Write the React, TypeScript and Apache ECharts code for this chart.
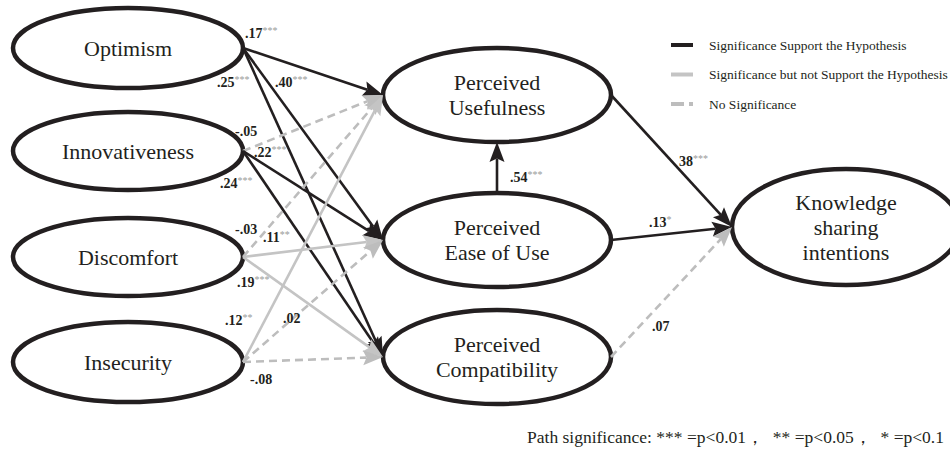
import React, { useEffect, useRef } from 'react';
import * as echarts from 'echarts';

// ---- Data ----
const nodeNames = [
  'Optimism',
  'Innovativeness',
  'Discomfort',
  'Insecurity',
  'Perceived\nUsefulness',
  'Perceived\nEase of Use',
  'Perceived\nCompatibility',
  'Knowledge\nsharing\nintentions',
];

const edgeSources = [0, 0, 0, 1, 1, 1, 2, 2, 2, 3, 3, 3, 5, 4, 5, 6];
const edgeTargets = [4, 5, 6, 4, 5, 6, 4, 5, 6, 4, 5, 6, 4, 7, 7, 7];
const coefficients = ['.17', '.40', '.25', '-.05', '.22', '.24', '-.03', '.11', '.19', '.12', '.02', '-.08', '.54', '38', '.13', '.07'];
const significance = ['***', '***', '***', '', '***', '***', '', '**', '***', '**', '', '', '***', '***', '*', ''];
const pathTypes = [
  'support', 'support', 'support',
  'noSig', 'support', 'support',
  'noSig', 'notSupport', 'notSupport',
  'notSupport', 'noSig', 'noSig',
  'support', 'support', 'support', 'noSig',
];

const legendTypes = ['support', 'notSupport', 'noSig'];
const legendLabels = [
  'Significance Support the Hypothesis',
  'Significance but not Support the Hypothesis',
  'No Significance',
];
const footnote = 'Path significance: *** =p<0.01，  ** =p<0.05，  * =p<0.1';

// ---- Layout (positions & sizes) ----
const nodeLayout = [
  { cx: 128, cy: 48, rx: 115, ry: 40 },
  { cx: 128, cy: 151, rx: 115, ry: 39 },
  { cx: 128, cy: 257, rx: 115, ry: 39 },
  { cx: 128, cy: 362, rx: 115, ry: 40 },
  { cx: 497, cy: 95, rx: 114, ry: 47 },
  { cx: 497, cy: 240, rx: 114, ry: 47 },
  { cx: 497, cy: 357, rx: 114, ry: 47 },
  { cx: 846, cy: 227, rx: 114, ry: 58 },
];

const labelLayout = [
  [245, 33], [275, 82], [217, 82],
  [235, 131], [254, 152], [220, 183],
  [235, 229], [263, 237], [237, 282],
  [225, 320], [283, 318], [250, 379],
  [510, 177], [679, 161], [649, 222], [652, 326],
];

const INK = '#231f20';
const pathStyles: Record<string, { stroke: string; lineDash?: number[]; width: number }> = {
  support: { stroke: INK, width: 2.6 },
  notSupport: { stroke: '#c4c4c4', width: 2.6 },
  noSig: { stroke: '#bdbdbd', width: 2.6, lineDash: [8, 5] },
};

const SERIF = 'Liberation Serif';

function anchors(i: number) {
  const s = nodeLayout[edgeSources[i]];
  const t = nodeLayout[edgeTargets[i]];
  if (Math.abs(s.cx - t.cx) < 1) {
    return [s.cx, s.cy - s.ry, t.cx, t.cy + t.ry];
  }
  return [s.cx + s.rx, s.cy, t.cx - t.rx, t.cy];
}

export default function App() {
  const ref = useRef<HTMLDivElement>(null);

  useEffect(() => {
    if (!ref.current) return;
    const chart = echarts.init(ref.current, null, { renderer: 'svg' });

    const nodeData = nodeLayout.map((n) => [n.cx, n.cy, n.rx, n.ry]);
    const edgeData = edgeSources.map((_, i) => anchors(i));
    const labelData = labelLayout.map((p) => [p[0], p[1]]);

    const legendGraphics: any[] = [];
    legendLabels.forEach((lab, i) => {
      const st = pathStyles[legendTypes[i]];
      const y = 45 + i * 29.5;
      legendGraphics.push({
        type: 'line',
        shape: { x1: 671, y1: y, x2: 693, y2: y },
        style: { stroke: st.stroke, lineWidth: 4, lineDash: st.lineDash ? [13, 5] : null },
      });
      legendGraphics.push({
        type: 'text',
        x: 709,
        y,
        style: {
          text: lab,
          fill: INK,
          fontFamily: SERIF,
          fontSize: 13.5,
          verticalAlign: 'middle',
          align: 'left',
        },
      });
    });
    legendGraphics.push({
      type: 'text',
      x: 944,
      y: 437,
      style: {
        text: footnote,
        fill: INK,
        fontFamily: SERIF,
        fontSize: 17.5,
        align: 'right',
        verticalAlign: 'middle',
      },
    });

    chart.setOption({
      animation: false,
      backgroundColor: '#ffffff',
      grid: { left: 0, right: 0, top: 0, bottom: 0 },
      xAxis: { type: 'value', min: 0, max: 950, show: false },
      yAxis: { type: 'value', min: 0, max: 460, inverse: true, show: false },
      graphic: legendGraphics,
      series: [
        {
          type: 'custom',
          name: 'nodes',
          clip: false,
          z: 2,
          data: nodeData,
          encode: { x: 0, y: 1 },
          renderItem: (params: any, api: any) => {
            const i = params.dataIndex;
            const c = api.coord([api.value(0), api.value(1)]);
            const s = api.size([api.value(2), api.value(3)]);
            return {
              type: 'group',
              children: [
                {
                  type: 'ellipse',
                  shape: { cx: c[0], cy: c[1], rx: s[0], ry: s[1] },
                  style: { fill: '#ffffff', stroke: INK, lineWidth: 4.5 },
                },
                {
                  type: 'text',
                  x: c[0],
                  y: c[1],
                  style: {
                    text: nodeNames[i],
                    fill: INK,
                    fontFamily: SERIF,
                    fontSize: 22,
                    lineHeight: 25,
                    align: 'center',
                    verticalAlign: 'middle',
                  },
                },
              ],
            };
          },
        },
        {
          type: 'custom',
          name: 'paths',
          clip: false,
          z: 3,
          data: edgeData,
          encode: { x: [0, 2], y: [1, 3] },
          renderItem: (params: any, api: any) => {
            const i = params.dataIndex;
            const p1 = api.coord([api.value(0), api.value(1)]);
            const p2 = api.coord([api.value(2), api.value(3)]);
            const st = pathStyles[pathTypes[i]];
            const dx = p2[0] - p1[0];
            const dy = p2[1] - p1[1];
            const len = Math.hypot(dx, dy);
            const ux = dx / len;
            const uy = dy / len;
            const px = -uy;
            const py = ux;
            const L = 20;
            const W = 7.5;
            const notch = 3.5;
            const bx = p2[0] - ux * L;
            const by = p2[1] - uy * L;
            const nx = p2[0] - ux * (L - notch);
            const ny = p2[1] - uy * (L - notch);
            return {
              type: 'group',
              children: [
                {
                  type: 'line',
                  shape: { x1: p1[0], y1: p1[1], x2: nx, y2: ny },
                  style: {
                    stroke: st.stroke,
                    lineWidth: st.width,
                    lineDash: st.lineDash || null,
                  },
                },
                {
                  type: 'polygon',
                  shape: {
                    points: [
                      [p2[0], p2[1]],
                      [bx + px * W, by + py * W],
                      [nx, ny],
                      [bx - px * W, by - py * W],
                    ],
                  },
                  style: { fill: st.stroke },
                },
              ],
            };
          },
        },
        {
          type: 'custom',
          name: 'coefficients',
          clip: false,
          z: 4,
          data: labelData,
          encode: { x: 0, y: 1 },
          renderItem: (params: any, api: any) => {
            const i = params.dataIndex;
            const p = api.coord([api.value(0), api.value(1)]);
            const stars = significance[i];
            return {
              type: 'text',
              x: p[0],
              y: p[1],
              style: {
                text: `{v|${coefficients[i]}}` + (stars ? `{s|${stars}}` : ''),
                align: 'left',
                verticalAlign: 'middle',
                rich: {
                  v: {
                    fontFamily: SERIF,
                    fontSize: 14,
                    fontWeight: 'bold',
                    fill: INK,
                    lineHeight: 15,
                  },
                  s: {
                    fontFamily: SERIF,
                    fontSize: 10,
                    fill: '#9a9a9a',
                    verticalAlign: 'top',
                    lineHeight: 9,
                  },
                },
              },
            };
          },
        },
      ],
    });

    return () => {
      chart.dispose();
    };
  }, []);

  return (
    <div
      ref={ref}
      style={{ position: 'fixed', left: 0, top: 0, width: 950, height: 460, background: '#fff' }}
    />
  );
}
